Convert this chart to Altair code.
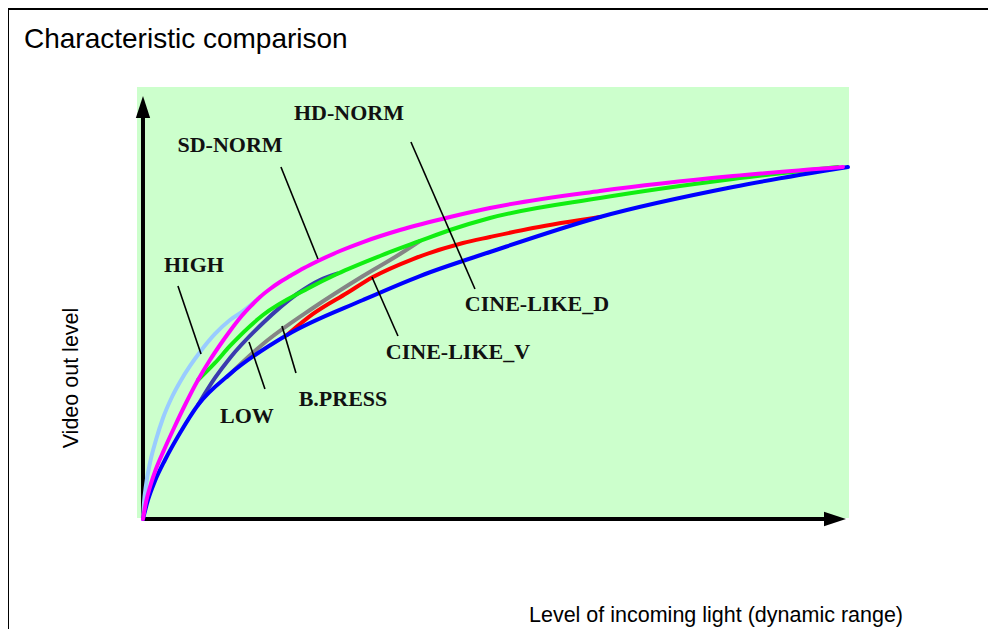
import altair as alt
import pandas as pd

# ---- curve readings: x = level of incoming light (0-100), y = video out level (0-100) ----
HIGH_X = [0, 0.14, 0.43, 0.99, 1.84, 2.84, 4.11, 5.25, 6.67, 8.09, 10.21, 12.34, 14.04, 16.31]
HIGH_Y = [0, 4.55, 9.66, 15.91, 22.44, 28.69, 34.66, 38.92, 43.47, 47.44, 52.56, 56.53, 58.81, 62.50]

HD_X = [0, 0.43, 0.99, 1.84, 2.98, 4.40, 6.10, 7.80, 9.50, 10.92, 12.34, 13.76, 15.18, 16.60,
        18.01, 19.43, 20.85, 22.84, 24.82, 27.94, 31.21, 36.45, 43.55, 49.22, 64.82, 83.69, 99.29]
HD_Y = [0, 4.83, 9.09, 14.20, 19.60, 25.85, 32.95, 39.49, 45.17, 49.43, 53.41, 57.10, 60.23, 63.07,
        65.34, 67.33, 69.03, 71.31, 73.30, 76.14, 78.69, 82.10, 85.80, 88.35, 93.18, 97.44, 100]

SD_X = [7.80, 10.21, 12.34, 17.02, 23.26, 27.52, 33.62, 39.29, 43.55, 49.22, 64.82, 83.69, 98.58]
SD_Y = [39.49, 44.32, 49.15, 57.95, 65.34, 69.60, 74.72, 78.98, 82.10, 85.51, 91.19, 96.59, 100]

LOW_X = [7.80, 10.21, 12.34, 17.02, 21.84, 25.11, 27.52]
LOW_Y = [32.39, 40.06, 45.74, 55.68, 63.92, 67.90, 69.70]

BP_X = [11.91, 17.02, 24.11, 31.21, 36.45, 39.29]
BP_Y = [40.34, 49.72, 59.94, 69.03, 75.28, 78.98]

CV_X = [20.43, 24.11, 28.94, 32.62, 38.30, 45.39, 49.22, 55.32, 64.82]
CV_Y = [52.27, 58.24, 64.20, 68.75, 73.86, 78.41, 80.11, 82.67, 85.80]

CD_X = [0, 0.71, 1.70, 3.12, 5.25, 7.80, 12.34, 20.43, 31.21, 39.29, 49.22, 64.82, 83.69, 100]
CD_Y = [0, 5.40, 10.80, 16.76, 24.43, 32.39, 41.19, 52.27, 62.22, 69.03, 75.85, 85.80, 94.32, 100]

# drawing order (back to front)
SERIES = [
    ("HIGH", "#99CCFF", HIGH_X, HIGH_Y),
    ("LOW", "#3B3BAF", LOW_X, LOW_Y),
    ("B.PRESS", "#858585", BP_X, BP_Y),
    ("CINE-LIKE_V", "#FF0000", CV_X, CV_Y),
    ("SD-NORM", "#11EE11", SD_X, SD_Y),
    ("CINE-LIKE_D", "#0000FF", CD_X, CD_Y),
    ("HD-NORM", "#FF00FF", HD_X, HD_Y),
]

# ---- annotation labels and leader lines ----
LABELS = ["HD-NORM", "SD-NORM", "HIGH", "LOW", "B.PRESS", "CINE-LIKE_V", "CINE-LIKE_D"]
LABEL_X = [29.22, 12.34, 7.23, 14.75, 28.37, 44.68, 55.89]
LABEL_Y = [115.48, 106.25, 72.16, 29.26, 33.95, 47.30, 60.94]

LEAD_X1 = [38.01, 19.57, 4.96, 15.04, 19.72, 32.48]
LEAD_Y1 = [107.10, 100.00, 66.19, 50.28, 54.83, 68.75]
LEAD_X2 = [47.09, 24.82, 8.23, 17.30, 21.70, 36.17]
LEAD_Y2 = [65.34, 73.86, 46.88, 36.93, 41.48, 51.99]

# axis arrows (data units)
AXIS_END_X = 96.9
AXIS_END_Y = 114.8
ARROW_X = [0, 98.16]
ARROW_Y = [117.05, 0]
ARROW_SHAPES = ["M0,-1L0.65,1L-0.65,1Z", "M1,0L-1,-0.65L-1,0.65Z"]

TITLE = "Characteristic comparison"
X_TITLE = "Level of incoming light (dynamic range)"
Y_TITLE = "Video out level"

xs = alt.Scale(domain=[-0.85, 100.15], nice=False, zero=False)
ys = alt.Scale(domain=[0.28, 122.73], nice=False, zero=False)
X = alt.X("x:Q", scale=xs, axis=None)
Y = alt.Y("y:Q", scale=ys, axis=None)

layers = []

# axes with arrows
axes_df = pd.DataFrame({"x": [0, 0], "y": [0, 0], "x2": [0, AXIS_END_X], "y2": [AXIS_END_Y, 0]})
layers.append(
    alt.Chart(axes_df).mark_rule(color="black", strokeWidth=4).encode(
        x=X, y=Y, x2="x2:Q", y2="y2:Q")
)
for ax, ay, shp in zip(ARROW_X, ARROW_Y, ARROW_SHAPES):
    layers.append(
        alt.Chart(pd.DataFrame({"x": [ax], "y": [ay]})).mark_point(
            shape=shp, size=484, filled=True, color="black", opacity=1, strokeWidth=0
        ).encode(x=X, y=Y)
    )

# curves
for name, color, cx, cy in SERIES:
    df = pd.DataFrame({"x": cx, "y": cy, "i": list(range(len(cx)))})
    layers.append(
        alt.Chart(df).mark_line(color=color, strokeWidth=4, interpolate="monotone",
                                strokeCap="round").encode(x=X, y=Y, order="i:Q")
    )

# leader lines
lead_df = pd.DataFrame({"x": LEAD_X1, "y": LEAD_Y1, "x2": LEAD_X2, "y2": LEAD_Y2})
layers.append(
    alt.Chart(lead_df).mark_rule(color="black", strokeWidth=1.6).encode(
        x=X, y=Y, x2="x2:Q", y2="y2:Q")
)

# labels
lab_df = pd.DataFrame({"x": LABEL_X, "y": LABEL_Y, "t": LABELS})
layers.append(
    alt.Chart(lab_df).mark_text(font="Liberation Serif", fontWeight="bold", fontSize=22,
                                color="#111111", align="center", baseline="middle").encode(
        x=X, y=Y, text="t:N")
)

one = alt.Data(values=[{}])
# frame lines
layers.append(alt.Chart(one).mark_rule(color="black", strokeWidth=2).encode(
    x=alt.value(-129), x2=alt.value(860), y=alt.value(-78)))
layers.append(alt.Chart(one).mark_rule(color="black", strokeWidth=2).encode(
    x=alt.value(-129), y=alt.value(-79), y2=alt.value(545)))

# titles
layers.append(alt.Chart(one).mark_text(font="Liberation Sans", fontSize=28, align="left",
                                       baseline="alphabetic", color="black").encode(
    x=alt.value(-113), y=alt.value(-39), text=alt.value(TITLE)))
layers.append(alt.Chart(one).mark_text(font="Liberation Sans", fontSize=21.5, align="center",
                                       baseline="alphabetic", color="black").encode(
    x=alt.value(579), y=alt.value(535), text=alt.value(X_TITLE)))
layers.append(alt.Chart(one).mark_text(font="Liberation Sans", fontSize=21.5, align="center",
                                       baseline="middle", angle=270, color="black").encode(
    x=alt.value(-65), y=alt.value(291), text=alt.value(Y_TITLE)))

chart = alt.layer(*layers).properties(
    width=712, height=431,
    padding={"left": 129, "top": 79, "right": 139, "bottom": 111},
    autosize="none",
    background="white",
).configure_view(fill="#CCFFCC", stroke=None)

chart.save("out.html", embed_options={"renderer": "svg", "actions": False})
